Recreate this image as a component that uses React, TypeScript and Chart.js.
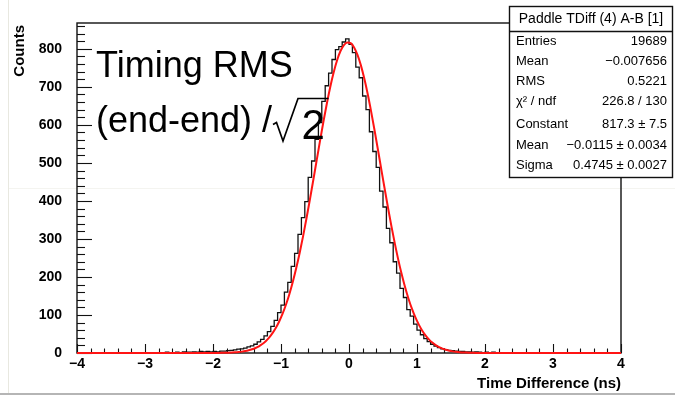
import React, { useEffect, useRef } from "react";
import { Chart, registerables } from "chart.js";

Chart.register(...registerables);

// ---------------- data ----------------
const X_MIN = -4;
const X_MAX = 4;
const BIN_WIDTH = 0.05;
const Y_MAX = 868;

const xTickValues = [-4, -3, -2, -1, 0, 1, 2, 3, 4];
const yTickValues = [0, 100, 200, 300, 400, 500, 600, 700, 800];

// 160 bins of width 0.05 from -4 to 4
const histCounts = [
  0, 0, 0, 1, 0, 0, 0, 0, 1, 0, 0, 0, 1, 0, 0, 1, 0, 0, 0, 1,
  0, 1, 0, 1, 0, 0, 1, 2, 0, 1, 2, 1, 3, 2, 2, 3, 2, 4, 3, 4,
  3, 4, 3, 5, 5, 6, 7, 8, 10, 11, 13, 16, 19, 23, 29, 36, 45, 56, 70, 86,
  106, 126, 160, 186, 228, 262, 312, 356, 398, 462, 505, 562, 606, 662, 703, 736, 772, 798, 806, 818,
  826, 812, 790, 752, 724, 676, 640, 582, 530, 488, 426, 384, 328, 290, 240, 210, 170, 146, 114, 97,
  76, 60, 48, 38, 30, 23, 18, 14, 11, 9, 7, 6, 5, 4, 4, 3, 3, 2, 3, 2,
  1, 2, 1, 2, 1, 1, 0, 1, 1, 0, 1, 0, 0, 1, 0, 1, 0, 0, 1, 0,
  0, 0, 1, 0, 0, 0, 0, 1, 0, 0, 0, 0, 0, 0, 1, 0, 0, 0, 0, 0,
];

// fitted Gaussian curve, read at points
const fitX = [
  -4, -2.5,
  -1.975, -1.925, -1.875, -1.825, -1.775, -1.725, -1.675, -1.625, -1.575, -1.525,
  -1.475, -1.425, -1.375, -1.325, -1.275, -1.225, -1.175, -1.125, -1.075, -1.025,
  -0.975, -0.925, -0.875, -0.825, -0.775, -0.725, -0.675, -0.625, -0.575, -0.525,
  -0.475, -0.425, -0.375, -0.325, -0.275, -0.225, -0.175, -0.125, -0.075, -0.025,
  0.025, 0.075, 0.125, 0.175, 0.225, 0.275, 0.325, 0.375, 0.425, 0.475,
  0.525, 0.575, 0.625, 0.675, 0.725, 0.775, 0.825, 0.875, 0.925, 0.975,
  1.025, 1.075, 1.125, 1.175, 1.225, 1.275, 1.325, 1.375, 1.425, 1.475,
  1.525, 1.575, 1.625, 1.675, 1.725, 1.775, 1.825, 1.875, 1.925, 1.975,
  2.5, 4,
];
const fitY = [
  0, 0.01,
  0.16, 0.24, 0.37, 0.55, 0.82, 1.2, 1.75, 2.5, 3.6, 5.0,
  7.0, 9.7, 13.2, 17.7, 23.6, 31.1, 40.4, 52.1, 66.3, 83.5,
  104.0, 128.1, 156.0, 188.0, 224.0, 263.9, 307.5, 354.3, 403.7, 455.1,
  507.2, 559.1, 609.5, 657.0, 700.5, 738.6, 770.2, 794.3, 810.0, 817.0,
  814.9, 803.8, 784.2, 756.6, 721.8, 681.1, 635.5, 586.5, 535.3, 483.2,
  431.3, 380.8, 332.4, 287.0, 245.0, 206.9, 172.8, 142.7, 116.5, 94.1,
  75.2, 59.4, 46.4, 35.9, 27.4, 20.7, 15.5, 11.4, 8.4, 6.0,
  4.3, 3.1, 2.2, 1.5, 1.0, 0.7, 0.45, 0.3, 0.2, 0.13,
  0.01, 0,
];

const statsTitle = "Paddle TDiff (4) A-B [1]";
const statLabels = ["Entries", "Mean", "RMS", "χ² / ndf", "Constant", "Mean", "Sigma"];
const statValues = [
  "19689",
  "−0.007656",
  "0.5221",
  "226.8 / 130",
  "817.3 ± 7.5",
  "−0.0115 ± 0.0034",
  "0.4745 ± 0.0027",
];

const xTitle = "Time Difference (ns)";
const yTitle = "Counts";
const noteLine1 = "Timing RMS";
const noteLine2 = "(end-end) /";
const noteRootArg = "2";

// ---------------- layout / style ----------------
const W = 675;
const H = 395;
const LEFT = 77;
const RIGHT = 621;
const TOP = 23;
const BOTTOM = 353;
const FONT = '"Liberation Sans", Arial, Helvetica, sans-serif';

const fmtNum = (v: number) => (v < 0 ? "\u2212" + Math.abs(v) : String(v));

const rootPlugin = {
  id: "rootStyle",
  beforeDatasetsDraw(chart: any) {
    const ctx = chart.ctx;
    const { left, right, top, bottom } = chart.chartArea;
    const xs = chart.scales.x;
    const ys = chart.scales.y;
    ctx.save();
    // faint page line
    ctx.strokeStyle = "#f4f4f0";
    ctx.lineWidth = 1;
    ctx.beginPath();
    ctx.moveTo(9, 188.5);
    ctx.lineTo(W, 188.5);
    ctx.stroke();

    ctx.strokeStyle = "#111";
    ctx.lineWidth = 1.4;
    ctx.strokeRect(left, top, right - left, bottom - top);
    ctx.lineWidth = 1.1;
    // y ticks inward
    for (let v = 0; v <= Y_MAX; v += 20) {
      const py = Math.round(ys.getPixelForValue(v)) + 0.5;
      const len = v % 100 === 0 ? 15 : 8;
      ctx.beginPath();
      ctx.moveTo(left, py);
      ctx.lineTo(left + len, py);
      ctx.stroke();
    }
    // x ticks inward
    for (let k = 0; k <= Math.round((X_MAX - X_MIN) / 0.2); k++) {
      const v = X_MIN + k * 0.2;
      const px = Math.round(xs.getPixelForValue(v)) + 0.5;
      const len = k % 5 === 0 ? 9 : 4.5;
      ctx.beginPath();
      ctx.moveTo(px, bottom);
      ctx.lineTo(px, bottom - len);
      ctx.stroke();
    }
    ctx.restore();
  },
  afterDraw(chart: any) {
    const ctx = chart.ctx;
    ctx.save();
    // page border lines
    ctx.strokeStyle = "#e8e8e0";
    ctx.lineWidth = 1;
    ctx.beginPath();
    ctx.moveTo(8.5, 0);
    ctx.lineTo(8.5, 393);
    ctx.stroke();
    ctx.strokeStyle = "#9c9c9c";
    ctx.lineWidth = 1.5;
    ctx.beginPath();
    ctx.moveTo(0, 394);
    ctx.lineTo(W, 394);
    ctx.stroke();

    // axis titles
    ctx.fillStyle = "#000";
    ctx.font = `bold 15px ${FONT}`;
    ctx.textAlign = "right";
    ctx.textBaseline = "middle";
    ctx.fillText(xTitle, RIGHT, 384);
    ctx.save();
    ctx.translate(20, 25);
    ctx.rotate(-Math.PI / 2);
    ctx.fillText(yTitle, 0, 0);
    ctx.restore();

    // stats box
    const bx0 = 509.5, bx1 = 672.5, by0 = 6.5, by1 = 177.5;
    ctx.fillStyle = "#fff";
    ctx.fillRect(bx0, by0, bx1 - bx0, by1 - by0);
    ctx.strokeStyle = "#111";
    ctx.lineWidth = 1.4;
    ctx.strokeRect(bx0, by0, bx1 - bx0, by1 - by0);
    ctx.beginPath();
    ctx.moveTo(bx0, 31.5);
    ctx.lineTo(bx1, 31.5);
    ctx.stroke();
    ctx.fillStyle = "#000";
    ctx.font = `14px ${FONT}`;
    ctx.textAlign = "center";
    ctx.textBaseline = "middle";
    ctx.fillText(statsTitle, (bx0 + bx1) / 2, 19.5);
    const rowsY = [41, 61, 81, 101.5, 124.5, 145, 165];
    ctx.font = `13px ${FONT}`;
    statLabels.forEach((lab, i) => {
      ctx.textAlign = "left";
      ctx.fillText(lab, 516, rowsY[i]);
      ctx.textAlign = "right";
      ctx.fillText(statValues[i], 667, rowsY[i]);
    });

    // annotation text
    ctx.textAlign = "left";
    ctx.textBaseline = "alphabetic";
    ctx.font = `36px ${FONT}`;
    ctx.fillText(noteLine1, 96, 77);
    ctx.fillText(noteLine2, 96, 131.5);
    ctx.strokeStyle = "#000";
    ctx.lineWidth = 1.7;
    ctx.lineJoin = "miter";
    ctx.beginPath();
    ctx.moveTo(273, 124.5);
    ctx.lineTo(276.5, 122.5);
    ctx.lineTo(283, 141);
    ctx.lineTo(298, 98.5);
    ctx.lineTo(328.5, 98.5);
    ctx.stroke();
    ctx.font = `42px ${FONT}`;
    ctx.fillText(noteRootArg, 301.5, 139);
    ctx.restore();
  },
};

export default function App() {
  const canvasRef = useRef<HTMLCanvasElement | null>(null);

  useEffect(() => {
    if (!canvasRef.current) return;
    const histPoints = histCounts.map((c, i) => ({ x: X_MIN + i * BIN_WIDTH, y: c }));
    histPoints.push({ x: X_MAX, y: histCounts[histCounts.length - 1] });
    const fitPoints = fitX.map((x, i) => ({ x, y: fitY[i] }));

    const chart = new Chart(canvasRef.current, {
      type: "line",
      data: {
        datasets: [
          {
            label: "fit",
            data: fitPoints,
            borderColor: "rgb(255,20,20)",
            borderWidth: 2,
            pointRadius: 0,
            cubicInterpolationMode: "monotone",
            fill: false,
            order: 0,
            clip: { left: 0, top: 0, right: 0, bottom: 2 },
          } as any,
          {
            label: "hist",
            data: histPoints,
            borderColor: "#111",
            borderWidth: 1.3,
            pointRadius: 0,
            stepped: "after",
            fill: false,
            order: 1,
          } as any,
        ],
      },
      options: {
        animation: false,
        responsive: false,
        maintainAspectRatio: false,
        devicePixelRatio: 1,
        layout: { padding: { left: 0, top: TOP, right: W - RIGHT, bottom: 0 } },
        plugins: {
          legend: { display: false },
          tooltip: { enabled: false },
          title: { display: false },
        },
        scales: {
          x: {
            type: "linear",
            min: X_MIN,
            max: X_MAX,
            grid: { display: false },
            border: { display: false },
            afterFit: (s: any) => {
              s.height = H - BOTTOM;
            },
            afterBuildTicks: (s: any) => {
              s.ticks = xTickValues.map((v) => ({ value: v }));
            },
            ticks: {
              autoSkip: false,
              maxRotation: 0,
              minRotation: 0,
              padding: -5,
              color: "#000",
              font: { family: FONT, size: 14, weight: "bold" },
              callback: (v: any) => fmtNum(Number(v)),
            },
          },
          y: {
            type: "linear",
            min: 0,
            max: Y_MAX,
            grid: { display: false },
            border: { display: false },
            afterFit: (s: any) => {
              s.width = LEFT;
            },
            afterBuildTicks: (s: any) => {
              s.ticks = yTickValues.map((v) => ({ value: v }));
            },
            ticks: {
              autoSkip: false,
              padding: 7,
              color: "#000",
              font: { family: FONT, size: 14, weight: "bold" },
              callback: (v: any) => fmtNum(Number(v)),
            },
          },
        },
      } as any,
      plugins: [rootPlugin],
    });
    return () => chart.destroy();
  }, []);

  return (
    <div style={{ position: "absolute", left: 0, top: 0, width: W, height: H, background: "#fff" }}>
      <canvas ref={canvasRef} width={W} height={H} style={{ width: W, height: H, display: "block" }} />
    </div>
  );
}
